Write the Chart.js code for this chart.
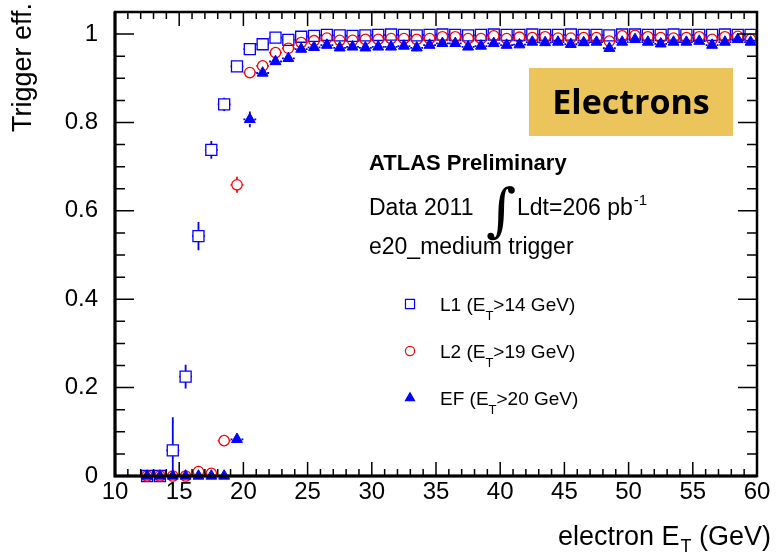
<!DOCTYPE html>
<html><head><meta charset="utf-8">
<script src="https://cdn.jsdelivr.net/npm/chart.js@4.4.0/dist/chart.umd.min.js"></script>
<style>html,body{margin:0;padding:0;background:#fff;}#wrap{position:relative;width:777px;height:553px;}</style>
</head><body><div id="wrap"><canvas id="c" width="777" height="553"></canvas></div>
<script>
// electron ET bin centres (GeV)
const binCenters = [12.5,13.5,14.5,15.5,16.5,17.5,18.5,19.5,20.5,21.5,22.5,23.5,24.5,25.5,26.5,27.5,28.5,29.5,30.5,31.5,32.5,33.5,34.5,35.5,36.5,37.5,38.5,39.5,40.5,41.5,42.5,43.5,44.5,45.5,46.5,47.5,48.5,49.5,50.5,51.5,52.5,53.5,54.5,55.5,56.5,57.5,58.5,59.5];
// L1 (ET>14 GeV)
const effL1 = [0,0,0.058,0.225,0.543,0.738,0.841,0.927,0.966,0.977,0.992,0.987,0.994,0.996,0.998,0.997,0.996,0.997,0.998,0.999,0.998,0.997,0.998,0.999,0.998,0.997,0.998,0.999,0.998,0.998,0.999,0.998,0.998,0.999,0.998,0.998,0.997,0.999,0.999,0.998,0.998,0.999,0.998,0.998,0.998,0.999,0.998,0.998];
const errL1Low  = [0,0,0.050,0.027,0.032,0.020,0.015,0.010,0.006,0.005,0.004,0.003,0.003,0.003,0.003,0.003,0.003,0.003,0.003,0.003,0.003,0.003,0.003,0.003,0.003,0.003,0.003,0.003,0.003,0.003,0.003,0.003,0.003,0.003,0.003,0.003,0.003,0.003,0.003,0.003,0.003,0.003,0.003,0.003,0.003,0.003,0.003,0.003];
const errL1High = [0,0,0.075,0.027,0.032,0.020,0.015,0.010,0.006,0.005,0.004,0.003,0.003,0.003,0.003,0.003,0.003,0.003,0.003,0.003,0.003,0.003,0.003,0.003,0.003,0.003,0.003,0.003,0.003,0.003,0.003,0.003,0.003,0.003,0.003,0.003,0.003,0.003,0.003,0.003,0.003,0.003,0.003,0.003,0.003,0.003,0.003,0.003];
// L2 (ET>19 GeV)
const effL2 = [0,0,0,0,0.010,0.006,0.080,0.659,0.913,0.928,0.958,0.968,0.981,0.985,0.991,0.986,0.986,0.988,0.988,0.990,0.990,0.988,0.990,0.994,0.994,0.990,0.990,0.996,0.990,0.993,0.992,0.994,0.991,0.991,0.992,0.992,0.984,0.996,0.997,0.994,0.992,0.991,0.992,0.994,0.988,0.994,0.995,0.988];
const errL2 = [0,0,0,0,0.006,0.005,0.012,0.018,0.010,0.008,0.006,0.005,0.004,0.003,0.003,0.003,0.003,0.003,0.003,0.003,0.003,0.003,0.003,0.003,0.003,0.003,0.003,0.003,0.003,0.003,0.003,0.003,0.003,0.003,0.003,0.003,0.003,0.003,0.003,0.003,0.003,0.003,0.003,0.003,0.003,0.003,0.003,0.003];
// EF (ET>20 GeV)
const effEF = [0,0,0,0,0,0,0,0.083,0.807,0.912,0.938,0.945,0.966,0.970,0.975,0.969,0.971,0.969,0.971,0.971,0.973,0.969,0.975,0.979,0.979,0.971,0.973,0.979,0.975,0.976,0.982,0.981,0.982,0.977,0.981,0.982,0.968,0.982,0.988,0.982,0.978,0.982,0.982,0.984,0.975,0.982,0.988,0.982];
const errEF = [0,0,0,0,0,0,0,0.010,0.018,0.010,0.007,0.006,0.004,0.004,0.004,0.004,0.004,0.004,0.004,0.004,0.004,0.004,0.004,0.004,0.004,0.004,0.004,0.004,0.004,0.004,0.004,0.004,0.004,0.004,0.004,0.004,0.004,0.004,0.004,0.004,0.004,0.004,0.004,0.004,0.004,0.004,0.004,0.004];
const binHalfWidth = 0.5;
// axis tick labels
const xTickValues = [10,15,20,25,30,35,40,45,50,55,60];
const yTickValues = [0,0.2,0.4,0.6,0.8,1];

const seriesNames = ['L1 (E', 'L2 (E', 'EF (E'];
const seriesTails = ['>14 GeV)', '>19 GeV)', '>20 GeV)'];
const BLUE = '#0000ff', RED = '#ff0000';

function pts(vals){ return binCenters.map((x,i)=>({x:x, y:vals[i]})); }

const series = [
  {name:'L1', vals:effL1, lo:errL1Low, hi:errL1High, color:BLUE, half:5.5},
  {name:'L2', vals:effL2, lo:errL2, hi:errL2, color:RED, half:5.3},
  {name:'EF', vals:effEF, lo:errEF, hi:errEF, color:BLUE, half:4.5}
];

const atlasPlugin = {
  id:'atlasPlugin',
  beforeDatasetsDraw(chart){
    const ctx = chart.ctx, xs = chart.scales.x, ys = chart.scales.y;
    ctx.save();
    ctx.lineWidth = 1.8;
    series.forEach(s=>{
      ctx.strokeStyle = s.color;
      binCenters.forEach((c,i)=>{
        const px = xs.getPixelForValue(c), py = ys.getPixelForValue(s.vals[i]);
        const yTop = ys.getPixelForValue(s.vals[i] + s.hi[i]);
        const yBot = ys.getPixelForValue(s.vals[i] - s.lo[i]);
        const xL = xs.getPixelForValue(c - binHalfWidth), xR = xs.getPixelForValue(c + binHalfWidth);
        ctx.beginPath();
        if (py - s.half > yTop) { ctx.moveTo(px, py - s.half); ctx.lineTo(px, yTop); }
        if (yBot > py + s.half) { ctx.moveTo(px, py + s.half); ctx.lineTo(px, yBot); }
        if (px - s.half > xL) { ctx.moveTo(px - s.half, py); ctx.lineTo(xL, py); }
        if (xR > px + s.half) { ctx.moveTo(px + s.half, py); ctx.lineTo(xR, py); }
        ctx.stroke();
      });
    });
    ctx.restore();
  },
  afterDraw(chart){
    const ctx = chart.ctx, xs = chart.scales.x, ys = chart.scales.y, a = chart.chartArea;
    ctx.save();
    // ticks (inside, mirrored)
    ctx.strokeStyle = '#000'; ctx.lineWidth = 1.5;
    ctx.beginPath();
    for (let v = 10; v <= 60; v += 1) {
      const p = xs.getPixelForValue(v);
      const L = (v % 5 === 0) ? 14 : 7;
      ctx.moveTo(p, a.bottom); ctx.lineTo(p, a.bottom - L);
      ctx.moveTo(p, a.top); ctx.lineTo(p, a.top + L);
    }
    for (let k = 0; k <= 21; k++) {
      const v = k * 0.05;
      const p = ys.getPixelForValue(v);
      const L = (k % 4 === 0) ? 19 : 10;
      ctx.moveTo(a.left, p); ctx.lineTo(a.left + L, p);
      ctx.moveTo(a.right, p); ctx.lineTo(a.right - L, p);
    }
    ctx.stroke();
    // frame
    ctx.lineWidth = 2.5;
    ctx.strokeRect(a.left, a.top, a.right - a.left, a.bottom - a.top);
    ctx.lineWidth = 3;
    ctx.beginPath(); ctx.moveTo(a.left, a.top); ctx.lineTo(a.left, a.bottom); ctx.lineTo(a.right, a.bottom); ctx.stroke();

    ctx.fillStyle = '#000';
    // y title
    ctx.save();
    ctx.font = '27px "Liberation Sans", Arial, sans-serif';
    ctx.translate(31, 3); ctx.rotate(-Math.PI/2);
    ctx.textAlign = 'right'; ctx.textBaseline = 'alphabetic';
    ctx.fillText('Trigger eff.', 0, 0);
    ctx.restore();

    // x title with subscript
    ctx.textBaseline = 'alphabetic'; ctx.textAlign = 'left';
    const fMain = '27px "Liberation Sans", Arial, sans-serif', fSub = '18px "Liberation Sans", Arial, sans-serif';
    ctx.font = fMain; const w1 = ctx.measureText('electron E').width, w3 = ctx.measureText(' (GeV)').width;
    ctx.font = fSub; const w2 = ctx.measureText('T').width;
    let x0 = 771 - (w1 + w2 + w3 + 1);
    ctx.font = fMain; ctx.fillText('electron E', x0, 545);
    ctx.font = fSub; ctx.fillText('T', x0 + w1 + 1, 552);
    ctx.font = fMain; ctx.fillText(' (GeV)', x0 + w1 + w2 + 1, 545);

    // Electrons box
    ctx.fillStyle = '#ebc55b';
    ctx.fillRect(529, 68, 204, 68);
    ctx.fillStyle = '#000';
    ctx.font = 'bold 34px "Open Sans", sans-serif';
    ctx.textAlign = 'center'; ctx.textBaseline = 'middle';
    ctx.fillText('Electrons', 631, 104);

    // labels
    ctx.textAlign = 'left'; ctx.textBaseline = 'alphabetic';
    ctx.font = 'bold 22px "Liberation Sans", Arial, sans-serif';
    ctx.fillText('ATLAS Preliminary', 369, 170);
    ctx.font = '23px "Liberation Sans", Arial, sans-serif';
    ctx.fillText('Data 2011', 369, 215);
    ctx.fillText('e20_medium trigger', 369, 254);
    ctx.fillText('Ldt=206 pb', 517, 215);
    const wl = ctx.measureText('Ldt=206 pb').width;
    ctx.font = '15px "Liberation Sans", Arial, sans-serif';
    ctx.fillText('-1', 517 + wl + 1, 205);
    ctx.font = '58px "DejaVu Serif", serif';
    ctx.textAlign = 'center';
    ctx.fillText('\u222B', 501, 230);

    // legend
    const legY = [304, 351, 398];
    const legStyles = ['rect', 'circle', 'triangle'];
    const legRad = [6.4, 4.6, 5.2];
    series.forEach((s, i) => {
      const filled = i === 2;
      ctx.strokeStyle = s.color; ctx.lineWidth = 1.2;
      ctx.fillStyle = filled ? s.color : 'rgba(0,0,0,0)';
      Chart.helpers.drawPoint(ctx, {pointStyle: legStyles[i], radius: legRad[i], borderWidth: 1.2}, 410, legY[i]);
      ctx.fillStyle = '#000'; ctx.textAlign = 'left';
      ctx.font = '19px "Liberation Sans", Arial, sans-serif';
      const base = legY[i] + 6.5;
      ctx.fillText(seriesNames[i], 440, base);
      const wa = ctx.measureText(seriesNames[i]).width;
      ctx.font = '13px "Liberation Sans", Arial, sans-serif';
      ctx.fillText('T', 440 + wa, base + 9);
      const wb = ctx.measureText('T').width;
      ctx.font = '19px "Liberation Sans", Arial, sans-serif';
      ctx.fillText(seriesTails[i], 440 + wa + wb, base);
    });
    ctx.restore();
  }
};

new Chart(document.getElementById('c'), {
  type: 'scatter',
  data: { datasets: [
    { label:'L1', data: pts(effL1), pointStyle:'rect', radius:7.8, borderColor:BLUE, backgroundColor:'rgba(0,0,0,0)', borderWidth:1.3, clip:false, order:3 },
    { label:'L2', data: pts(effL2), pointStyle:'circle', radius:5.2, borderColor:RED, backgroundColor:'rgba(0,0,0,0)', borderWidth:1.3, clip:false, order:2 },
    { label:'EF', data: pts(effEF), pointStyle:'triangle', radius:6.3, borderColor:BLUE, backgroundColor:BLUE, borderWidth:1, clip:false, order:1 }
  ]},
  options: {
    responsive:false, animation:false, devicePixelRatio:1,
    layout:{ autoPadding:false, padding:{ top:12, right:20, left:0, bottom:0 } },
    plugins:{ legend:{display:false}, tooltip:{enabled:false} },
    scales:{
      x:{ type:'linear', min:10, max:60, bounds:'data',
          grid:{ display:false, drawTicks:false }, border:{display:false},
          ticks:{ padding:2, color:'#000', font:{ family:'"Liberation Sans", Arial, sans-serif', size:24 }, maxRotation:0, autoSkip:false },
          afterBuildTicks(s){ s.ticks = xTickValues.map(v=>({value:v})); },
          afterFit(s){ s.height = 77; s.paddingLeft = 0; s.paddingRight = 0; } },
      y:{ type:'linear', min:0, max:1.05, bounds:'data',
          grid:{ display:false, drawTicks:false }, border:{display:false},
          ticks:{ padding:17, color:'#000', font:{ family:'"Liberation Sans", Arial, sans-serif', size:24 }, autoSkip:false,
                  callback:(v)=>String(Number(Number(v).toFixed(1))) },
          afterBuildTicks(s){ s.ticks = yTickValues.map(v=>({value:v})); },
          afterFit(s){ s.width = 115; s.paddingTop = 0; s.paddingBottom = 0; } }
    }
  },
  plugins:[atlasPlugin]
});
</script></body></html>
